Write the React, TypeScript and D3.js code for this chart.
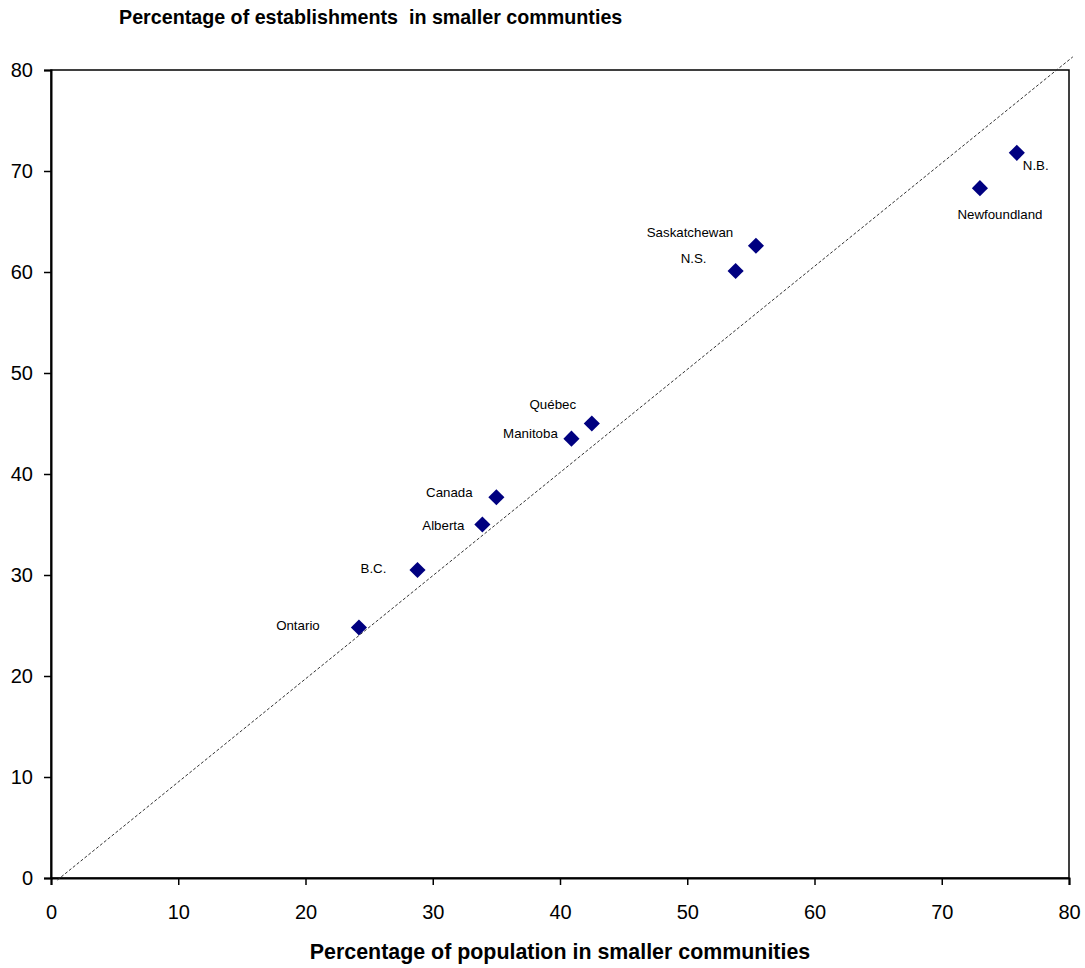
import * as d3 from "d3";
import React, { useEffect, useRef } from "react";

const provinces = ["N.B.", "Newfoundland", "Saskatchewan", "N.S.", "Québec", "Manitoba", "Canada", "Alberta", "B.C.", "Ontario"];
const popShare = [75.9, 73.0, 55.4, 53.8, 42.5, 40.9, 35.0, 33.9, 28.8, 24.2];
const estShare = [71.8, 68.3, 62.6, 60.1, 45.0, 43.5, 37.7, 35.0, 30.5, 24.8];
// label placement relative to the marker: [dx, dy, anchor]
const labelOffsets: [number, number, string][] = [
  [6, 17, "start"],
  [20, 31, "middle"],
  [-66, -9, "middle"],
  [-42, -8, "middle"],
  [-39, -15, "middle"],
  [-41, -1, "middle"],
  [-47, 0, "middle"],
  [-39, 5, "middle"],
  [-44, 3, "middle"],
  [-61, 2, "middle"],
];
const xTicks = [0, 10, 20, 30, 40, 50, 60, 70, 80];
const yTicks = [0, 10, 20, 30, 40, 50, 60, 70, 80];
const refLine: [number, number][] = [[0.5, -0.2], [80.3, 81.3]];

export default function App() {
  const ref = useRef<SVGSVGElement | null>(null);

  useEffect(() => {
    if (!ref.current) return;
    const svg = d3.select(ref.current);
    svg.selectAll("*").remove();

    const width = 1085, height = 968;
    const left = 51, right = 1069, top = 70, bottom = 878;

    const x = d3.scaleLinear().domain([0, 80]).range([left, right]);
    const y = d3.scaleLinear().domain([0, 80]).range([bottom, top]);

    svg.attr("width", width).attr("height", height)
      .style("font-family", "Arial, 'Liberation Sans', sans-serif");

    // plot frame
    svg.append("rect")
      .attr("x", left).attr("y", top)
      .attr("width", right - left).attr("height", bottom - top)
      .attr("fill", "none").attr("stroke", "#000").attr("stroke-width", 1.5);

    // axes
    const xAxis = svg.append("g")
      .attr("transform", `translate(0, ${bottom})`)
      .call(d3.axisBottom(x).tickValues(xTicks).tickSize(7).tickPadding(20).tickFormat(d3.format("d")));
    xAxis.select(".domain").attr("stroke-width", 2);
    xAxis.selectAll(".tick line").attr("stroke-width", 1.5);
    xAxis.selectAll("text").attr("font-size", 20).attr("fill", "#000");

    const yAxis = svg.append("g")
      .attr("transform", `translate(${left}, 0)`)
      .call(d3.axisLeft(y).tickValues(yTicks).tickSize(7).tickPadding(11).tickFormat(d3.format("d")));
    yAxis.select(".domain").attr("stroke-width", 2);
    yAxis.selectAll(".tick line").attr("stroke-width", 1.5);
    yAxis.selectAll("text").attr("font-size", 20).attr("fill", "#000");
    svg.selectAll(".domain").attr("stroke", "#000");

    // reference line
    svg.append("line")
      .attr("x1", x(refLine[0][0])).attr("y1", y(refLine[0][1]))
      .attr("x2", x(refLine[1][0])).attr("y2", y(refLine[1][1]))
      .attr("stroke", "#333").attr("stroke-width", 1)
      .attr("stroke-dasharray", "3,2");

    const data = provinces.map((p, i) => ({ name: p, px: popShare[i], ey: estShare[i], off: labelOffsets[i] }));

    const sym = d3.symbol().type(d3.symbolSquare).size(130);
    svg.append("g").selectAll("path")
      .data(data)
      .join("path")
      .attr("d", sym() as string)
      .attr("transform", d => `translate(${x(d.px)}, ${y(d.ey)}) rotate(45)`)
      .attr("fill", "#000080");

    svg.append("g").selectAll("text")
      .data(data)
      .join("text")
      .attr("x", d => x(d.px) + d.off[0])
      .attr("y", d => y(d.ey) + d.off[1])
      .attr("text-anchor", d => d.off[2])
      .attr("font-size", 13.3)
      .text(d => d.name);

    // titles
    svg.append("text")
      .attr("x", 119).attr("y", 24)
      .attr("font-size", 19.7).attr("font-weight", "bold")
      .attr("xml:space", "preserve")
      .text("Percentage of establishments  in smaller communties");

    svg.append("text")
      .attr("x", 560).attr("y", 959)
      .attr("text-anchor", "middle")
      .attr("font-size", 21.4).attr("font-weight", "bold")
      .text("Percentage of population in smaller communities");
  }, []);

  return <svg ref={ref} style={{ position: "absolute", left: 0, top: 0 }}></svg>;
}
